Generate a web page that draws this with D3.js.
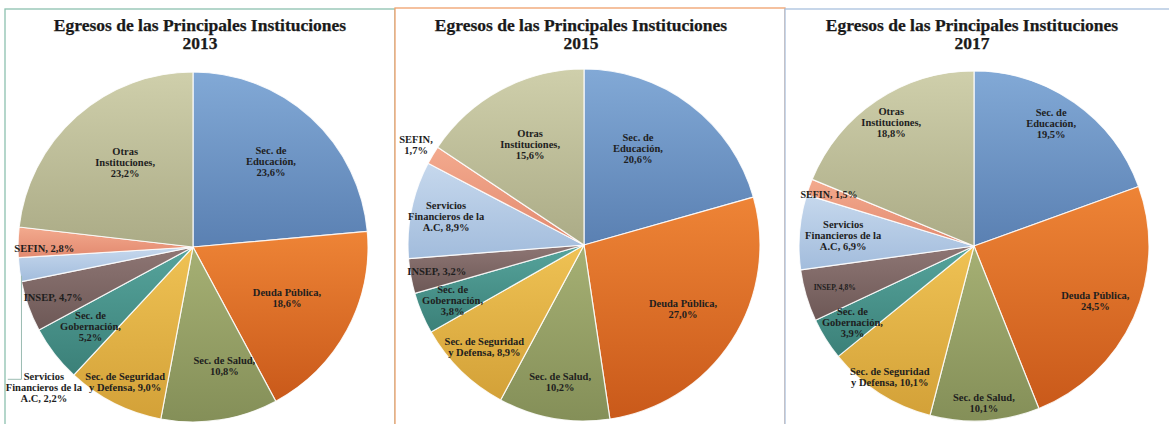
<!DOCTYPE html>
<html><head><meta charset="utf-8">
<script src="https://cdn.jsdelivr.net/npm/d3@7"></script>
<style>body{margin:0;background:#fff;} svg{display:block}</style>
</head><body><svg id="c" width="1169" height="424"></svg>
<script>
// ---------- DATA ----------
const categories = ["Sec. de Educación","Deuda Pública","Sec. de Salud","Sec. de Seguridad y Defensa","Sec. de Gobernación","INSEP","Servicios Financieros de la A.C","SEFIN","Otras Instituciones"];
const years = ["2013","2015","2017"];
const values2013 = [23.6,18.6,10.8,9.0,5.2,4.7,2.2,2.8,23.2];
const values2015 = [20.6,27.0,10.2,8.9,3.8,3.2,8.9,1.7,15.6];
const values2017 = [19.5,24.5,10.1,10.1,3.9,4.8,6.9,1.5,18.8];
const chartTitle = "Egresos de las Principales Instituciones";

// label text wrapping (Excel-like line breaks), {v} = formatted value
const labelLines = [["Sec. de","Educación,","{v}"],["Deuda Pública,","{v}"],["Sec. de Salud,","{v}"],["Sec. de Seguridad","y Defensa, {v}"],["Sec. de","Gobernación,","{v}"],["INSEP, {v}"],["Servicios","Financieros de la","A.C, {v}"],["SEFIN, {v}"],["Otras","Instituciones,","{v}"]];
const labelLinesOverride = {"2015-7":["SEFIN,","{v}"]};

// ---------- STYLE / LAYOUT ----------
const colorTop    = ["#82a9d6","#ee8436","#a6b074","#efc254","#56a49c","#8e7674","#c6d8ed","#f3aa8e","#cfcfab"];
const colorBottom = ["#5a80b2","#c9591a","#848f58","#d3a138","#3b8078","#6d5856","#a2bcdc","#e2896f","#abab86"];
const panels = [
  {x0:5,   x1:395,  top:9, stroke:"#8dc1af", cx:193, cy:247, r:175, tx:200},
  {x0:395, x1:785,  top:8, stroke:"#f0a06c", cx:584, cy:245, r:176, tx:581},
  {x0:785, x1:1180, top:9, stroke:"#a9c1dd", cx:974, cy:246, r:175, tx:972}
];
const labelR = [
  [0.66,0.61,0.70,0.86,0.74,0.85,1.17,0.85,0.62],
  [0.63,0.67,0.79,0.81,0.81,0.85,0.80,1.11,0.65],
  [0.83,0.76,0.90,0.89,0.82,0.83,0.75,0.88,0.85]
];
const labelShift = [
  [0,0,-6,0,0,0,-35.8,-2,3],
  [-8,0,0,0,0,0,0,0,0],
  [-3,0,0,0,0,0,0,0,0]
];
const labelSize = [
  [10.5,10.5,10.5,10.5,10.5,10.5,10.5,10.5,10.5],
  [10.5,10.5,10.5,10.5,10.5,10.5,10.5,10.5,10.5],
  [10.5,10.5,10.5,10.5,10.5,7.5,10.5,10,10.5]
];
const allValues = [values2013, values2015, values2017];

const fmt = d3.formatLocale({decimal:",", thousands:".", grouping:[3], currency:["",""]}).format(".1f");
const svg = d3.select("#c");
const defs = svg.append("defs");
const FONT = "'Liberation Serif','Times New Roman',serif";

years.forEach((yr, p) => {
  const P = panels[p];
  const vals = allValues[p];
  svg.append("rect").attr("x",P.x0).attr("y",P.top).attr("width",P.x1-P.x0).attr("height",440)
    .attr("fill","#fff").attr("stroke",P.stroke).attr("stroke-width",1.3);

  const t = svg.append("text").attr("x",P.tx).attr("text-anchor","middle")
    .attr("font-family",FONT).attr("font-weight","bold").attr("font-size",17.5).attr("fill","#1a1a1a")
    .attr("stroke","#1a1a1a").attr("stroke-width",0.25);
  t.append("tspan").attr("x",P.tx).attr("y",30.5).text(chartTitle);
  t.append("tspan").attr("x",P.tx).attr("y",48.5).text(yr);

  const pie = d3.pie().sort(null).value(d=>d);
  const arcs = pie(vals);
  const arc = d3.arc().innerRadius(0).outerRadius(P.r);
  const g = svg.append("g").attr("transform",`translate(${P.cx},${P.cy})`);

  categories.forEach((c,i)=>{
    const lg = defs.append("linearGradient").attr("id",`g${p}_${i}`)
      .attr("x1",0).attr("y1",0).attr("x2",0).attr("y2",1);
    lg.append("stop").attr("offset","0%").attr("stop-color",colorTop[i]);
    lg.append("stop").attr("offset","100%").attr("stop-color",colorBottom[i]);
  });

  g.selectAll("path.slice").data(arcs).join("path").attr("class","slice")
    .attr("d",arc).attr("fill",(d,i)=>`url(#g${p}_${i})`)
    .attr("stroke","#ffffff").attr("stroke-opacity",0.85).attr("stroke-width",1.2).attr("stroke-linejoin","round");

  arcs.forEach((d,i)=>{
    const mid = (d.startAngle+d.endAngle)/2;
    const a = mid + labelShift[p][i]*Math.PI/180;
    const rr = P.r*labelR[p][i];
    const lx = rr*Math.sin(a), ly = -rr*Math.cos(a);
    const lines = (labelLinesOverride[`${yr}-${i}`] || labelLines[i]).map(s=>s.replace("{v}", fmt(d.data)+"%"));
    const fs = labelSize[p][i];
    const lh = Math.max(fs*1.05, 8);
    const y0 = ly - (lines.length-1)*lh/2;
    const txt = g.append("text").attr("text-anchor","middle").attr("font-family",FONT)
      .attr("font-weight","bold").attr("font-size",fs).attr("fill","#1e1e1e");
    lines.forEach((s,k)=>txt.append("tspan").attr("x",lx).attr("y",y0+k*lh).attr("dy","0.35em").text(s));
    if (labelR[p][i] > 1.12) {
      const ex = P.r*Math.sin(mid), ey = -P.r*Math.cos(mid);
      const w = txt.node().getBBox();
      g.append("path").attr("d",`M${ex+2},${ey+6}V${y0+3}H${w.x+2}`)
        .attr("fill","none").attr("stroke","#9bbcb2").attr("stroke-width",1);
    }
  });
});
</script></body></html>
